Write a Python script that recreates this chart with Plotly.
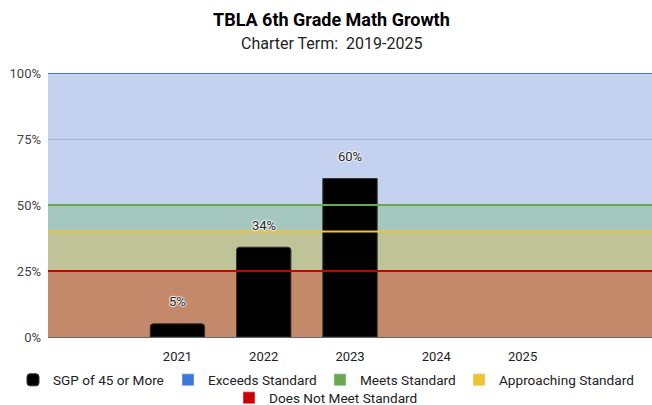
import plotly.graph_objects as go

categories = ["", "2021", "2022", "2023", "2024", "2025", ""]
sgp_values = [None, 5, 34, 60, None, None, None]

band_names = ["Does Not Meet Standard", "Approaching Standard", "Meets Standard", "Exceeds Standard"]
band_bounds = [0, 25, 40, 50, 100]
band_line_colors = ["#CC0000", "#F1C232", "#6AA84F", "#3C78D8"]
band_fill_colors = ["rgb(196,136,107)", "rgb(190,196,152)", "rgb(165,200,190)", "rgb(196,210,240)"]

y_ticks = [0, 25, 50, 75, 100]
y_tick_text = ["0%", "25%", "50%", "75%", "100%"]

idx = list(range(len(categories)))
n = len(categories)
center = (n - 1) / 2
alpha = 0.8

def translucent(rgb_str, a):
    r, g, b = [float(c) for c in rgb_str[4:-1].split(",")]
    c = [(v - 255 * (1 - a)) / a for v in (r, g, b)]
    return "rgba(%d,%d,%d,%.2f)" % (round(c[0]), round(c[1]), round(c[2]), a)

fig = go.Figure()

# band fills, each one bar spanning all categories
for k, name in enumerate(band_names):
    lo, hi = band_bounds[k], band_bounds[k + 1]
    fig.add_trace(go.Bar(
        x=[center], y=[hi - lo], base=[lo], width=[n], name=name,
        marker=dict(color=translucent(band_fill_colors[k], alpha), line=dict(width=0), cornerradius=0),
        showlegend=False, hoverinfo="skip",
    ))

fig.add_trace(go.Bar(
    x=idx, y=sgp_values, name="SGP of 45 or More", width=0.63,
    marker=dict(color="#000000", line=dict(color="#333333", width=1), cornerradius=3),
    legend="legend",
))

# band top lines, drawn over bars
for k, name in enumerate(band_names):
    hi = band_bounds[k + 1]
    fig.add_trace(go.Scatter(
        x=[-0.5, n - 0.5], y=[hi, hi], mode="lines",
        line=dict(color=band_line_colors[k], width=2),
        showlegend=False, hoverinfo="skip", cliponaxis=False,
    ))

# legend entries
legend_ids = {"Exceeds Standard": "legend2", "Meets Standard": "legend3",
              "Approaching Standard": "legend4", "Does Not Meet Standard": "legend5"}
for k in reversed(range(len(band_names))):
    fig.add_trace(go.Bar(
        x=[None], y=[None], name=band_names[k], legend=legend_ids[band_names[k]],
        marker=dict(color=band_line_colors[k]),
    ))

for i, v in zip(idx, sgp_values):
    if v is not None:
        fig.add_annotation(
            x=i, y=v, text=f"{v}%", showarrow=False, yshift=22,
            font=dict(family="Roboto", size=13, color="#222222",
                      shadow="1px 0 1px #fff, -1px 0 1px #fff, 0 1px 1px #fff, 0 -1px 1px #fff"),
        )

# title + subtitle
fig.add_annotation(xref="paper", yref="paper", x=0.470, y=1.2045, yanchor="middle",
                   text="<b>TBLA 6th Grade Math Growth</b>", showarrow=False,
                   font=dict(family="Roboto", size=18, color="#000000"))
fig.add_annotation(xref="paper", yref="paper", x=0.470, y=1.1136, yanchor="middle",
                   text="Charter Term:  2019-2025", showarrow=False,
                   font=dict(family="Roboto", size=16, color="#222222"))

W, H = 652, 405
def cx(px):
    return px / W
def cy(py):
    return 1 - py / H

leg_common = dict(orientation="h", xanchor="left", yanchor="middle",
                  xref="container", yref="container",
                  font=dict(family="Roboto", size=13.6, color="#222222"),
                  bgcolor="rgba(0,0,0,0)")
fig.update_layout(
    width=W, height=H,
    margin=dict(l=48, r=0, t=73, b=68, autoexpand=False),
    paper_bgcolor="white", plot_bgcolor="white",
    font=dict(family="Roboto", size=12, color="#222222"),
    barmode="overlay",
    showlegend=True,
    legend=dict(x=cx(52 - 39), y=cy(380), **leg_common),
    legend2=dict(x=cx(207 - 39), y=cy(380), **leg_common),
    legend3=dict(x=cx(359 - 39), y=cy(380), **leg_common),
    legend4=dict(x=cx(498 - 39), y=cy(380), **leg_common),
    legend5=dict(x=cx(268 - 39), y=cy(398), **leg_common),
)
fig.update_xaxes(
    range=[-0.5, n - 0.5], tickvals=idx, ticktext=categories,
    showgrid=False, zeroline=False, showline=True, linecolor="#666666", linewidth=1,
    tickfont=dict(size=13, color="#222222"), ticks="", tickangle=0, automargin=False,
    ticklabelstandoff=7,
)
fig.update_yaxes(
    range=[0, 100], tickvals=y_ticks, ticktext=y_tick_text,
    showgrid=True, gridcolor="#666666", zeroline=False, automargin=False,
    tickfont=dict(size=13, color="#444444"), ticklabelstandoff=6,
)

fig.write_html("out.html", config={"displayModeBar": False},
               post_script="document.body.style.margin='0';document.body.style.overflow='hidden';")
